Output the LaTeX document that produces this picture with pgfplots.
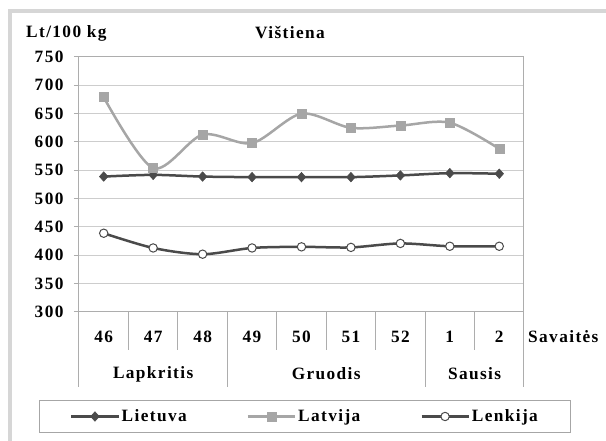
\documentclass[border=0pt]{standalone}
\usepackage{pgfplots}
\pgfplotsset{compat=1.18}
\usepackage{fontspec}
\setmainfont{Liberation Serif}[LetterSpace=8]
\definecolor{dk}{HTML}{4A4A4A}
\definecolor{lt}{HTML}{A6A6A6}
\definecolor{gr}{HTML}{CDCDCD}
\definecolor{bx}{HTML}{ADADAD}
\definecolor{fr}{HTML}{D6D6D6}
\newcommand{\lf}{\fontsize{17.3}{20}\selectfont\bfseries}
\begin{document}
\begin{tikzpicture}[x=1pt,y=1pt]
\useasboundingbox (0,0) rectangle (606,441);
\fill[white] (0,0) rectangle (606,441);
\draw[fr, line width=4pt] (9.5,0) -- (9.5,429.5) -- (606,429.5);
\begin{axis}[
  at={(79pt,129pt)}, anchor=south west,
  scale only axis, width=445pt, height=255pt,
  clip=false,
  xmin=0.5, xmax=9.5, ymin=300, ymax=750,
  xtick={1,...,9}, xticklabels={46,47,48,49,50,51,52,1,2},
  ytick={300,350,...,750},
  ymajorgrids, grid style={gr, line width=1pt},
  axis line style={bx, line width=1pt},
  tick align=outside, tick pos=left,
  major tick length=5pt,
  xtick style={draw=none},
  ytick style={bx, line width=1pt},
  ticklabel style={font=\lf},
  /pgf/number format/assume math mode=true,
  xticklabel style={anchor=center, yshift=-20pt},
  yticklabel style={anchor=east, xshift=-7pt},
  legend style={at={(0.5079,-0.4098)}, anchor=center, legend columns=3,
    draw=lt, line width=1pt, font=\lf, inner xsep=31pt, inner ysep=7pt,
    /tikz/every even column/.append style={column sep=58pt}},
  legend image code/.code={\draw[mark repeat=2,mark phase=2] plot coordinates {(0pt,0pt) (23.5pt,0pt) (47pt,0pt)};},
]
\addplot[dk, line width=2.5pt, smooth, mark=diamond*, mark size=4.8pt,
  mark options={solid, fill=dk, line width=0.5pt, xscale=1.2}]
  coordinates {(1,539) (2,542) (3,539) (4,538) (5,538) (6,538) (7,541) (8,545) (9,544)};
\addlegendentry{Lietuva}
\addplot[lt, line width=2.5pt, smooth, mark=square*, mark size=4.5pt,
  mark options={solid, fill=lt, line width=0.5pt}]
  coordinates {(1,679) (2,554) (3,613) (4,598) (5,650) (6,625) (7,629) (8,634) (9,588)};
\addlegendentry{Latvija}
\addplot[dk, line width=2.5pt, smooth, mark=*, mark size=4.2pt,
  mark options={solid, fill=white, draw=dk, line width=1pt}]
  coordinates {(1,439) (2,413) (3,402) (4,413) (5,415) (6,414) (7,421) (8,416) (9,416)};
\addlegendentry{Lenkija}
\draw[bx, line width=1pt]
  (axis cs:1.5,300) -- ++(0pt,-38pt)
  (axis cs:2.5,300) -- ++(0pt,-38pt)
  (axis cs:4.5,300) -- ++(0pt,-38pt)
  (axis cs:5.5,300) -- ++(0pt,-38pt)
  (axis cs:6.5,300) -- ++(0pt,-38pt)
  (axis cs:8.5,300) -- ++(0pt,-38pt)
  (axis cs:0.5,300) -- ++(0pt,-75pt)
  (axis cs:3.5,300) -- ++(0pt,-75pt)
  (axis cs:7.5,300) -- ++(0pt,-75pt)
  (axis cs:9.5,300) -- ++(0pt,-75pt);
\node[font=\lf] at (axis cs:2,300) [yshift=-62pt] {Lapkritis};
\node[font=\lf] at (axis cs:5.5,300) [yshift=-62pt] {Gruodis};
\node[font=\lf] at (axis cs:8.5,300) [yshift=-62pt] {Sausis};
\end{axis}
\node[font=\lf, anchor=west, inner sep=0pt] at (26,408) {Lt/100 kg};
\node[font=\lf, inner sep=0pt] at (290,408) {Vištiena};
\node[font=\lf, anchor=west, inner sep=0pt] at (528,104) {Savaitės};
\end{tikzpicture}
\end{document}
